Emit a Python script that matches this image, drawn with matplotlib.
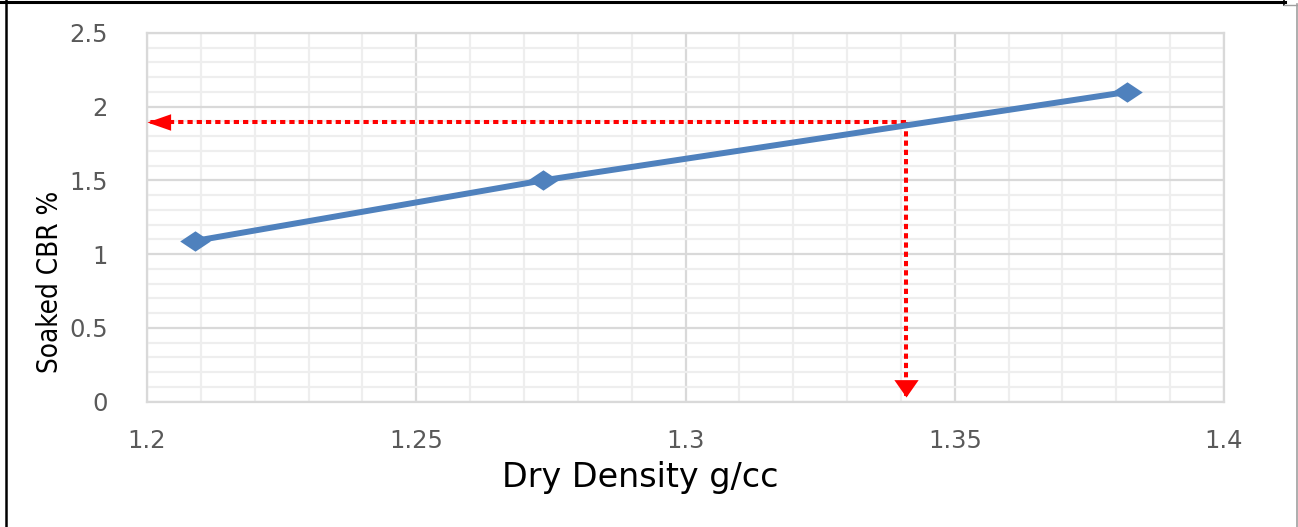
import numpy as np
import matplotlib
matplotlib.use('Agg')
import matplotlib.pyplot as plt
from matplotlib.lines import Line2D
from matplotlib.ticker import MultipleLocator

# data
dry_density = [1.209, 1.2735, 1.382]
soaked_cbr = [1.09, 1.50, 2.10]
read_density = 1.341
read_cbr = 1.895
x_ticks = [1.2, 1.25, 1.3, 1.35, 1.4]
y_ticks = [0, 0.5, 1, 1.5, 2, 2.5]

W, H = 1298, 527
fig = plt.figure(figsize=(W / 100, H / 100), dpi=100)
ax = fig.add_axes([147 / W, 1 - 401.5 / H, (1224 - 147) / W, (401.5 - 33) / H])

ax.set_xlim(1.2, 1.4)
ax.set_ylim(0, 2.5)
ax.set_xticks(x_ticks)
ax.set_yticks(y_ticks)
ax.set_xticklabels([f"{v:g}" for v in x_ticks])
ax.set_yticklabels([f"{v:g}" for v in y_ticks])
ax.xaxis.set_minor_locator(MultipleLocator(0.01))
ax.yaxis.set_minor_locator(MultipleLocator(0.1))
ax.grid(which='minor', color='#eeeeee', lw=1.6, zorder=0)
ax.grid(which='major', color='#d9d9d9', lw=1.6, zorder=0)
ax.set_axisbelow(True)
ax.tick_params(which='both', length=0)
ax.tick_params(axis='x', pad=20, labelsize=17.5, labelcolor='#595959')
ax.tick_params(axis='y', pad=28, labelsize=17.5, labelcolor='#595959')
for s in ax.spines.values():
    s.set_color('#d9d9d9')
    s.set_linewidth(1.6)

# red dotted guide lines with arrowheads
red = '#ff0000'
ax.plot([read_density, 1.2], [read_cbr, read_cbr], color=red, lw=2.9,
        dashes=(1.3, 1.0), zorder=3)
ax.plot([read_density, read_density], [read_cbr, 0.03], color=red, lw=2.9,
        dashes=(1.3, 1.0), zorder=3)
left_head = [(0, 0), (1, 0.35), (1, -0.35)]
down_head = [(0, 0), (0.7, 1), (-0.7, 1)]
ax.plot([1.2], [read_cbr], marker=left_head, ms=34, color=red, mew=0, zorder=4)
ax.plot([read_density], [0.03], marker=down_head, ms=25, color=red, mew=0, zorder=4)

# data series
diamond = [(-1.5, 0), (0, 1), (1.5, 0), (0, -1)]
ax.plot(dry_density, soaked_cbr, color='#4f81bd', lw=4.3, marker=diamond,
        ms=22, mew=0, zorder=5, solid_capstyle='butt')

fig.text(640 / W, 1 - 478 / H, 'Dry Density g/cc', ha='center', va='center',
         fontsize=24, family=['DejaVu Sans'], color='black')
fig.text(50 / W, 1 - 282 / H, 'Soaked CBR %', ha='center', va='center',
         rotation=90, fontsize=20, fontstretch='condensed',
         family=['DejaVu Sans Condensed', 'Liberation Sans Narrow', 'DejaVu Sans'],
         color='black')

# outer frame
def fline(xs, ys, c, lw):
    fig.add_artist(Line2D([x / W for x in xs], [1 - y / H for y in ys],
                          color=c, lw=lw, transform=fig.transFigure))

fline([6, 6], [0, H], 'black', 1.8)
fline([0, 1285], [2, 2], 'black', 2.2)
fline([1284, 1284], [0, 5], 'black', 1.2)
fline([1284, W], [4.5, 4.5], '#a0a0a0', 1.0)
fline([1297, 1297], [4, H], '#a0a0a0', 1.2)

fig.savefig('out.png', dpi=100)
